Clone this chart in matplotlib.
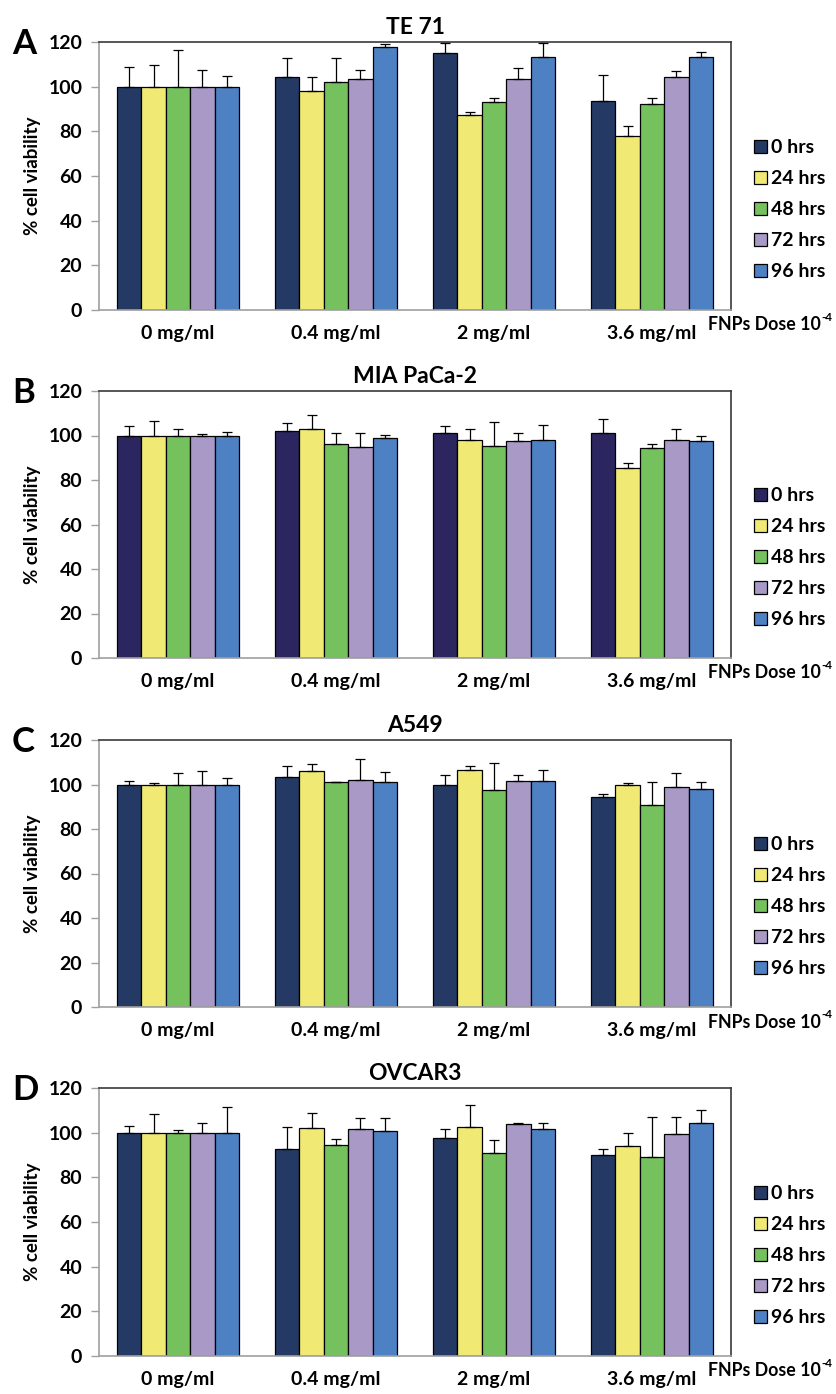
import numpy as np
import matplotlib
matplotlib.use('Agg')
import matplotlib.pyplot as plt

plt.rcParams['font.family'] = ['Lato', 'DejaVu Sans']
plt.rcParams['font.weight'] = 'bold'

doses = ['0 mg/ml', '0.4 mg/ml', '2 mg/ml', '3.6 mg/ml']
times = ['0 hrs', '24 hrs', '48 hrs', '72 hrs', '96 hrs']
panels = ['A', 'B', 'C', 'D']
titles = ['TE 71', 'MIA PaCa-2', 'A549', 'OVCAR3']

# mean viability, rows = dose, cols = time point
te71_mean = [[100, 100, 100, 100, 100],
             [104.3, 98.1, 102.0, 103.4, 117.9],
             [115.1, 87.2, 93.1, 103.4, 113.2],
             [93.6, 77.9, 92.1, 104.3, 113.2]]
te71_err = [[8.8, 9.7, 16.6, 7.3, 4.9],
            [8.4, 6.2, 10.7, 3.9, 1.1],
            [4.5, 1.5, 1.8, 4.8, 6.4],
            [11.8, 4.5, 2.8, 2.6, 2.5]]

mia_mean = [[100, 100, 100, 100, 100],
            [101.9, 102.8, 96.4, 94.9, 98.8],
            [101.3, 98.1, 95.5, 97.5, 98.1],
            [101.3, 85.6, 94.5, 98.1, 97.5]]
mia_err = [[4.2, 6.3, 2.8, 0.7, 1.5],
           [3.9, 6.3, 4.9, 6.0, 1.3],
           [2.9, 4.7, 10.5, 3.4, 6.7],
           [6.3, 2.0, 1.5, 4.7, 2.4]]

a549_mean = [[100, 100, 100, 100, 100],
             [103.5, 105.9, 100.9, 102.2, 101.0],
             [99.7, 106.4, 97.7, 101.6, 101.6],
             [94.3, 99.7, 91.0, 98.8, 98.2]]
a549_err = [[1.7, 0.6, 5.0, 6.2, 3.1],
            [4.8, 3.2, 0.3, 9.1, 4.6],
            [4.4, 2.1, 11.8, 2.8, 4.9],
            [1.5, 0.9, 10.3, 6.2, 3.1]]

ovcar_mean = [[100, 100, 100, 100, 100],
              [92.8, 101.9, 94.3, 101.5, 100.6],
              [97.6, 102.5, 91.1, 103.8, 101.5],
              [89.8, 94.1, 89.3, 99.5, 104.3]]
ovcar_err = [[2.8, 8.3, 1.0, 4.4, 11.6],
             [9.7, 6.9, 3.0, 4.9, 5.8],
             [4.0, 9.7, 5.6, 0.5, 2.9],
             [3.0, 5.6, 17.7, 7.5, 6.0]]

means = [te71_mean, mia_mean, a549_mean, ovcar_mean]
errs = [te71_err, mia_err, a549_err, ovcar_err]

navy = ['#243A64', '#2B2660', '#243A64', '#243A64']
other_colors = ['#F0EA74', '#74C15E', '#A899C6', '#4E81C3']

W, H = 837, 1394
fig = plt.figure(figsize=(W / 100, H / 100), dpi=100)

ax_left = 99
ax_width = 632
# (top, bottom) pixel rows of each panel's plot area
rows = [(42, 310), (391, 658), (740, 1007), (1088, 1356)]

bar_w = 0.155
x = np.arange(len(doses))

for p in range(4):
    top, bot = rows[p]
    ax = fig.add_axes([ax_left / W, 1 - bot / H, ax_width / W, (bot - top) / H])
    m = np.array(means[p])
    e = np.array(errs[p])
    colors = [navy[p]] + other_colors
    for j in range(len(times)):
        pos = x + (j - 2) * bar_w
        ax.bar(pos, m[:, j], bar_w, color=colors[j], edgecolor='black',
               linewidth=0.9, label=times[j], zorder=2)
        ax.errorbar(pos, m[:, j], yerr=[np.zeros(len(doses)), e[:, j]],
                    fmt='none', ecolor='black', elinewidth=0.9, capsize=3.5,
                    capthick=0.9, zorder=3)

    ax.set_xlim(-0.5, 3.5)
    ax.set_ylim(0, 120)
    ax.set_yticks(range(0, 121, 20))
    ax.tick_params(axis='y', direction='out', length=6, width=1, color='#a0a0a0',
                   labelsize=14, pad=6)
    ax.set_xticks(x)
    ax.set_xticklabels(doses)
    ax.tick_params(axis='x', length=0, labelsize=14, pad=11)
    for lab in ax.get_xticklabels() + ax.get_yticklabels():
        lab.set_fontweight('bold')

    for s in ['left', 'bottom']:
        ax.spines[s].set_color('#a0a0a0')
        ax.spines[s].set_linewidth(1.2)
    for s in ['top', 'right']:
        ax.spines[s].set_color('#3a3a3a')
        ax.spines[s].set_linewidth(1.2)

    ax.set_ylabel('% cell viability', fontsize=13.5, fontweight='bold', labelpad=5)
    ax.set_title(titles[p], fontsize=16.5, fontweight='bold', pad=6)

    # dose axis caption with superscript
    t = ax.text((708 - ax_left) / ax_width, -15 / (bot - top), 'FNPs Dose 10',
                transform=ax.transAxes, ha='left', va='center', fontsize=12.8,
                fontweight='bold', clip_on=False)
    ax.annotate('-4', xy=(1, 1), xycoords=t, ha='left', va='center',
                fontsize=8.5, fontweight='bold', xytext=(0.3, -1),
                textcoords='offset points')

    leg = ax.legend(loc='center left', bbox_to_anchor=((754 - ax_left) / ax_width, 0.375),
                    frameon=False, fontsize=14, handlelength=0.65, handleheight=0.65,
                    handletextpad=0.25, labelspacing=0.72, borderpad=0, borderaxespad=0)
    for txt in leg.get_texts():
        txt.set_fontweight('bold')

    fig.text(12 / W, 1 - (top + 2) / H, panels[p], fontsize=25, fontweight='bold',
             ha='left', va='center')

fig.savefig('out.png', dpi=100)
